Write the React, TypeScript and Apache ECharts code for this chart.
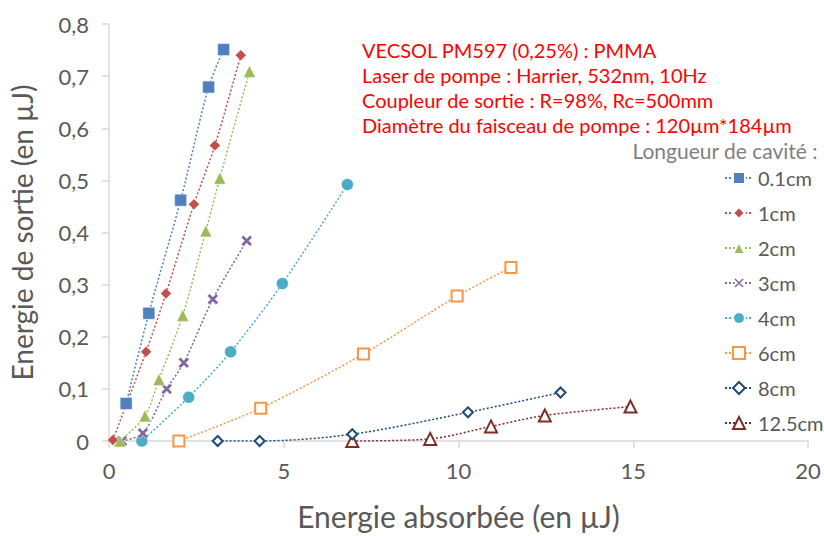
import React, { useEffect, useRef } from "react";
import * as echarts from "echarts";

const seriesNames = ["0.1cm", "1cm", "2cm", "3cm", "4cm", "6cm", "8cm", "12.5cm"];

const s01cm: [number, number][] = [[0.49, 0.072], [1.14, 0.245], [2.05, 0.462], [2.85, 0.679], [3.28, 0.751]];
const s1cm: [number, number][] = [[0.11, 0.002], [1.06, 0.171], [1.63, 0.283], [2.43, 0.454], [3.03, 0.567], [3.77, 0.740]];
const s2cm: [number, number][] = [[0.31, 0.0], [1.03, 0.048], [1.43, 0.118], [2.11, 0.241], [2.77, 0.403], [3.17, 0.504], [4.02, 0.709]];
const s3cm: [number, number][] = [[0.37, 0.0], [0.97, 0.015], [1.65, 0.1], [2.14, 0.15], [2.97, 0.272], [3.94, 0.384]];
const s4cm: [number, number][] = [[0.94, 0.0], [2.28, 0.084], [3.48, 0.171], [4.96, 0.302], [6.82, 0.492]];
const s6cm: [number, number][] = [[2.0, 0.0], [4.34, 0.063], [7.28, 0.167], [9.96, 0.278], [11.5, 0.333]];
const s8cm: [number, number][] = [[3.11, 0.0], [4.31, 0.0], [6.96, 0.013], [10.27, 0.055], [12.92, 0.093]];
const s125cm: [number, number][] = [[6.96, 0.0], [9.19, 0.004], [10.93, 0.028], [12.47, 0.049], [14.92, 0.066]];

const allData = [s01cm, s1cm, s2cm, s3cm, s4cm, s6cm, s8cm, s125cm];
const colors = ["#4F81BD", "#C0504D", "#9BBB59", "#8064A2", "#4BACC6", "#F79646", "#1F497D", "#7F2B28"];

const titleLines = [
  "VECSOL PM597 (0,25%) : PMMA",
  "Laser de pompe : Harrier, 532nm, 10Hz",
  "Coupleur de sortie : R=98%, Rc=500mm",
  "Diamètre du faisceau de pompe : 120µm*184µm",
];

const xPath = "path://M2,0 L5,3 L8,0 L10,2 L7,5 L10,8 L8,10 L5,7 L2,10 L0,8 L3,5 L0,2 Z";

const symbols = ["rect", "diamond", "triangle", xPath, "circle", "emptyRect", "emptyDiamond", "emptyTriangle"];
const sizes = [12, 11, 12, 11, 12, 11, 10, 12];

const FONT = "Lato, 'Open Sans', sans-serif";

export default function App() {
  const ref = useRef<HTMLDivElement>(null);
  useEffect(() => {
    if (!ref.current) return;
    const chart = echarts.init(ref.current, null, { renderer: "svg" });
    chart.setOption({
      animation: false,
      textStyle: { fontFamily: FONT },
      grid: { left: 107, right: 16, top: 24, bottom: 91, containLabel: false },
      xAxis: {
        type: "value",
        min: 0,
        max: 20,
        interval: 5,
        name: "Energie absorbée (en µJ)",
        nameLocation: "middle",
        nameGap: 60,
        nameTextStyle: { fontSize: 30, color: "#595959", fontFamily: FONT },
        axisLine: { show: true, lineStyle: { color: "#D9D9D9", width: 1.5 } },
        axisTick: { show: true, length: 7, lineStyle: { color: "#D9D9D9", width: 1.5 } },
        splitLine: { show: false },
        axisLabel: { fontSize: 22, color: "#595959", margin: 18, fontFamily: FONT },
      },
      yAxis: {
        type: "value",
        min: 0,
        max: 0.8,
        interval: 0.1,
        name: "Energie de sortie (en µJ)",
        nameLocation: "middle",
        nameGap: 73,
        nameRotate: 90,
        nameTextStyle: { fontSize: 28, color: "#595959", fontFamily: FONT },
        axisLine: { show: true, lineStyle: { color: "#D9D9D9", width: 1.5 } },
        axisTick: { show: true, length: 7, lineStyle: { color: "#D9D9D9", width: 1.5 } },
        splitLine: { show: false },
        axisLabel: {
          fontSize: 22,
          color: "#595959",
          margin: 20,
          fontFamily: FONT,
          formatter: (v: number) => (v === 0 ? "0" : v.toFixed(1).replace(".", ",")),
        },
      },
      legend: {
        orient: "vertical",
        left: 719,
        top: 163,
        itemWidth: 28,
        itemHeight: 15,
        itemGap: 15,
        textStyle: { fontSize: 20, color: "#595959", fontFamily: FONT, lineHeight: 20 },
        data: seriesNames,
      },
      graphic: [
        {
          type: "text",
          left: 362,
          top: 37,
          style: {
            text: titleLines.join("\n"),
            fontSize: 20,
            lineHeight: 25,
            fill: "#FF0000",
            fontFamily: FONT,
          },
        },
        {
          type: "text",
          right: 6,
          top: 140,
          style: {
            text: "Longueur de cavité :",
            fontSize: 21,
            fill: "#7F7F7F",
            fontFamily: FONT,
          },
        },
      ],
      series: allData.map((d, i) => ({
        name: seriesNames[i],
        type: "line",
        data: d,
        smooth: 0.3,
        symbol: symbols[i],
        symbolSize: sizes[i],
        showSymbol: true,
        lineStyle: { color: colors[i], width: 1.5, type: [2, 2] },
        itemStyle: {
          color: colors[i],
          borderColor: i >= 5 ? colors[i] : "#fff",
          borderWidth: i >= 5 ? 2.5 : 0.5,
        },
        z: 10 - i,
      })),
    });
    return () => chart.dispose();
  }, []);
  return (
    <div
      ref={ref}
      style={{ position: "absolute", left: 0, top: 0, width: 824, height: 536 }}
    />
  );
}
